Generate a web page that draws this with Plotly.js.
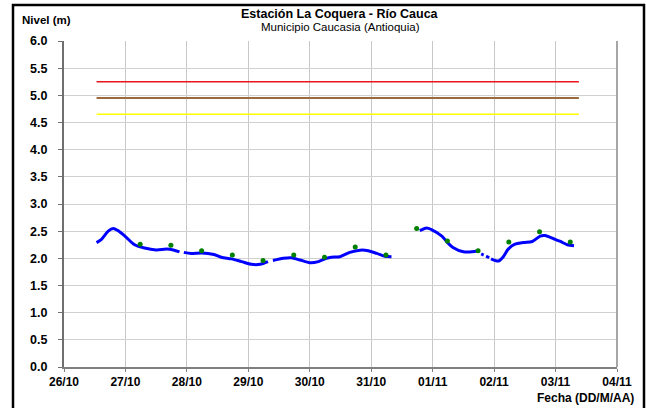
<!DOCTYPE html>
<html>
<head>
<meta charset="utf-8">
<script src="https://cdn.plot.ly/plotly-3.0.1.min.js"></script>
<style>
html,body{margin:0;padding:0;background:#fff;}
#chart{width:646px;height:408px;}
</style>
</head>
<body>
<div id="chart"></div>
<script>
// Nivel observado (línea azul)
const levelTimes = [
  "2015-10-26 12:43","2015-10-26 14:38","2015-10-26 17:17","2015-10-26 19:12","2015-10-26 21:07","2015-10-26 23:46",
  "2015-10-27 03:36","2015-10-27 07:26","2015-10-27 12:00","2015-10-27 16:05","2015-10-27 18:43","2015-10-27 21:07",
  null,
  "2015-10-27 22:48","2015-10-28 01:41","2015-10-28 05:46","2015-10-28 10:34","2015-10-28 13:26","2015-10-28 17:31",
  "2015-10-28 21:22","2015-10-29 01:12","2015-10-29 04:34","2015-10-29 07:41",
  null,
  "2015-10-29 09:36","2015-10-29 13:41","2015-10-29 16:48","2015-10-29 20:10","2015-10-30 00:00","2015-10-30 03:22",
  "2015-10-30 06:29","2015-10-30 08:24","2015-10-30 11:46","2015-10-30 15:36","2015-10-30 19:41","2015-10-30 22:48",
  "2015-10-31 02:10","2015-10-31 05:17","2015-10-31 07:55",
  null,
  "2015-10-31 18:58","2015-10-31 21:36","2015-10-31 23:31","2015-11-01 03:36","2015-11-01 06:00","2015-11-01 07:55",
  "2015-11-01 12:00","2015-11-01 15:22","2015-11-01 17:46",
  null,
  "2015-11-01 18:58","2015-11-01 19:55",
  null,
  "2015-11-01 20:53","2015-11-01 22:05",
  null,
  "2015-11-01 22:48","2015-11-02 01:41","2015-11-02 03:36","2015-11-02 05:31","2015-11-02 08:10","2015-11-02 11:31",
  "2015-11-02 14:53","2015-11-02 18:00","2015-11-02 19:55","2015-11-02 23:17","2015-11-03 01:55","2015-11-03 04:34",
  "2015-11-03 07:12"
];
const levelValues = [
  2.29,2.35,2.50,2.55,2.51,2.41,
  2.25,2.19,2.155,2.17,2.155,2.12,
  null,
  2.11,2.09,2.10,2.07,2.02,1.99,
  1.94,1.89,1.89,1.94,
  null,
  1.96,2.00,2.01,1.97,1.92,1.94,
  2.00,2.02,2.03,2.11,2.15,2.14,
  2.09,2.04,2.03,
  null,
  2.51,2.56,2.53,2.41,2.28,2.20,
  2.12,2.12,2.14,
  null,
  2.08,2.06,
  null,
  2.04,2.01,
  null,
  1.99,1.95,2.03,2.17,2.26,2.29,
  2.31,2.41,2.42,2.36,2.31,2.25,
  2.23
];

// Lecturas puntuales (puntos verdes)
const readingTimes = [
  "2015-10-27 05:45","2015-10-27 17:45","2015-10-28 05:45","2015-10-28 17:45","2015-10-29 05:45",
  "2015-10-29 17:45","2015-10-30 05:45","2015-10-30 17:45","2015-10-31 05:45","2015-10-31 17:45",
  "2015-11-01 05:45","2015-11-01 17:45","2015-11-02 05:45","2015-11-02 17:45","2015-11-03 05:45"
];
const readingValues = [2.26,2.24,2.14,2.06,1.96,2.06,2.02,2.21,2.06,2.55,2.32,2.14,2.30,2.49,2.30];

// Umbrales
const thresholdTimes = ["2015-10-26 12:43","2015-11-03 09:07"];
const thresholdRed = 5.25;
const thresholdBrown = 4.95;
const thresholdYellow = 4.65;

const yTicks = [0,0.5,1,1.5,2,2.5,3,3.5,4,4.5,5,5.5,6];
const xRange = ["2015-10-26 00:00","2015-11-04 00:00"];

const font = "Liberation Sans, Arial, sans-serif";

const traces = [
  {x: thresholdTimes, y: [thresholdRed, thresholdRed], mode: "lines", line: {color: "#e8151b", width: 1.3}, hoverinfo: "skip"},
  {x: thresholdTimes, y: [thresholdBrown, thresholdBrown], mode: "lines", line: {color: "#9a6a3c", width: 2}, hoverinfo: "skip"},
  {x: thresholdTimes, y: [thresholdYellow, thresholdYellow], mode: "lines", line: {color: "#ffff00", width: 1.5}, hoverinfo: "skip"},
  {x: levelTimes, y: levelValues, mode: "lines", connectgaps: false,
   line: {color: "#0000ff", width: 3, shape: "spline", smoothing: 0.8}},
  {x: readingTimes, y: readingValues, mode: "markers", marker: {color: "#008000", size: 5}}
];

const W = 646, H = 408, L = 64, R = 617, T = 41, B = 367;
const px = v => (v - L) / (R - L);
const py = v => (B - v) / (B - T);

const layout = {
  width: W, height: H,
  margin: {l: L, r: W - R, t: T, b: H - B, pad: 0},
  paper_bgcolor: "#ffffff", plot_bgcolor: "#ffffff",
  showlegend: false,
  font: {family: font, size: 11, color: "#000"},
  xaxis: {
    type: "date", range: xRange, dtick: 86400000, tickformat: "%d/%m",
    tickfont: {family: font, size: 12, weight: "bold", color: "#000"},
    showgrid: true, gridcolor: "#c8c8c8", gridwidth: 1,
    showline: true, linecolor: "#7f7f7f", linewidth: 2,
    ticks: "outside", ticklen: 3, tickcolor: "#7f7f7f",
    zeroline: false, fixedrange: true
  },
  yaxis: {
    range: [0, 6], tickvals: yTicks, tickformat: ".1f",
    tickfont: {family: font, size: 12.5, weight: "bold", color: "#000"},
    ticklabelstandoff: 8,
    showgrid: true, gridcolor: "#d0d0d0", gridwidth: 1,
    showline: true, linecolor: "#6f6f6f", linewidth: 2,
    ticks: "outside", ticklen: 4, tickcolor: "#6f6f6f",
    zeroline: false, fixedrange: true
  },
  shapes: [
    {type: "line", xref: "paper", yref: "paper", x0: 1, x1: 1, y0: 0, y1: 1, line: {color: "#a6a6a6", width: 2}},
    {type: "rect", xref: "paper", yref: "paper", x0: px(13), x1: px(644), y0: py(420), y1: py(5),
     line: {color: "#000", width: 2.5}, fillcolor: "rgba(0,0,0,0)"}
  ],
  annotations: [
    {xref: "paper", yref: "paper", x: px(340), y: py(14), text: "Estación La Coquera - Río Cauca", showarrow: false,
     font: {family: font, size: 12.5, weight: "bold"}, xanchor: "center", yanchor: "middle"},
    {xref: "paper", yref: "paper", x: px(340), y: py(27), text: "Municipio Caucasia (Antioquia)", showarrow: false,
     font: {family: font, size: 11.5}, xanchor: "center", yanchor: "middle"},
    {xref: "paper", yref: "paper", x: px(20), y: py(20), text: "Nivel (m)", showarrow: false,
     font: {family: font, size: 11.5, weight: "bold"}, xanchor: "left", yanchor: "middle"},
    {xref: "paper", yref: "paper", x: px(636), y: py(397.5), text: "Fecha (DD/M/AA)", showarrow: false,
     font: {family: font, size: 12, weight: "bold"}, xanchor: "right", yanchor: "middle"}
  ]
};

Plotly.newPlot("chart", traces, layout, {staticPlot: true, displayModeBar: false});
</script>
</body>
</html>
